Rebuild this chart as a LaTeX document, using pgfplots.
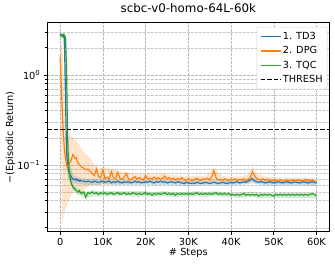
\documentclass[border=0pt]{standalone}
\usepackage{fontspec}
\setmainfont{DejaVu Sans}
\usepackage{pgfplots}
\usepackage{pgfplotstable}
\pgfplotsset{compat=1.18}
\usepgfplotslibrary{fillbetween}
\definecolor{C0}{HTML}{1F77B4}
\definecolor{C1}{HTML}{FF7F0E}
\definecolor{C2}{HTML}{2CA02C}

\pgfplotstableread{
x t d q
0 2.80 1.60 2.85
250 2.75 0.80 2.70
500 2.70 0.40 2.80
750 2.78 0.22 2.65
1000 2.60 0.15 2.75
1250 0.60 0.12 2.60
1500 0.14 0.10 1.20
1750 0.10 0.095 0.20
2000 0.085 0.10 0.10
2250 0.078 0.105 0.075
2500 0.075 0.11 0.065
2750 0.072 0.12 0.060
3000 0.070 0.13 0.057
3250 0.069 0.125 0.055
3500 0.068 0.118 0.054
3750 0.070 0.12 0.052
4000 0.067 0.11 0.051
4250 0.068 0.105 0.050
4500 0.066 0.10 0.052
4750 0.067 0.098 0.049
5000 0.066 0.095 0.048
5500 0.066 0.092 0.050
6000 0.065 0.088 0.044
6500 0.066 0.090 0.049
7000 0.065 0.085 0.048
7500 0.064 0.080 0.050
8000 0.066 0.076 0.048
8500 0.065 0.090 0.049
9000 0.064 0.074 0.047
9500 0.065 0.072 0.049
10000 0.066 0.088 0.048
10500 0.064 0.071 0.049
11000 0.065 0.073 0.047
11500 0.066 0.070 0.048
12000 0.063 0.084 0.049
12500 0.065 0.072 0.047
13000 0.064 0.070 0.048
13500 0.066 0.082 0.049
14000 0.064 0.071 0.047
14500 0.063 0.069 0.048
15000 0.065 0.073 0.049
15500 0.064 0.080 0.047
16000 0.065 0.070 0.048
16500 0.063 0.068 0.047
17000 0.064 0.071 0.049
17500 0.066 0.074 0.048
18000 0.064 0.069 0.047
18500 0.065 0.072 0.048
19000 0.063 0.070 0.047
19500 0.064 0.068 0.048
20000 0.065 0.076 0.049
20500 0.064 0.070 0.047
21000 0.066 0.071 0.048
21500 0.064 0.069 0.046
22000 0.063 0.073 0.048
22500 0.065 0.070 0.047
23000 0.064 0.072 0.048
23500 0.066 0.069 0.047
24000 0.064 0.071 0.048
24500 0.065 0.075 0.049
25000 0.063 0.070 0.047
25500 0.064 0.072 0.048
26000 0.065 0.069 0.047
26500 0.064 0.071 0.048
27000 0.063 0.068 0.046
27500 0.065 0.070 0.048
28000 0.064 0.069 0.047
28500 0.063 0.072 0.048
29000 0.062 0.068 0.047
29500 0.064 0.067 0.048
30000 0.063 0.070 0.047
30500 0.062 0.068 0.048
31000 0.063 0.067 0.047
31500 0.062 0.069 0.048
32000 0.064 0.071 0.049
32500 0.063 0.068 0.047
33000 0.062 0.067 0.048
33500 0.063 0.070 0.047
34000 0.064 0.069 0.048
34500 0.063 0.071 0.047
35000 0.062 0.068 0.048
35500 0.063 0.074 0.047
36000 0.064 0.086 0.048
36500 0.063 0.072 0.049
37000 0.062 0.068 0.047
37500 0.063 0.069 0.048
38000 0.064 0.067 0.047
38500 0.063 0.070 0.048
39000 0.062 0.068 0.047
39500 0.063 0.067 0.048
40000 0.064 0.069 0.046
40500 0.063 0.068 0.047
41000 0.064 0.070 0.046
41500 0.065 0.067 0.047
42000 0.063 0.069 0.046
42500 0.064 0.068 0.047
43000 0.065 0.070 0.048
43500 0.064 0.067 0.046
44000 0.066 0.069 0.047
44500 0.068 0.072 0.046
45000 0.070 0.084 0.047
45500 0.066 0.076 0.046
46000 0.065 0.071 0.047
46500 0.064 0.069 0.045
47000 0.065 0.068 0.047
47500 0.064 0.070 0.046
48000 0.063 0.067 0.047
48500 0.064 0.069 0.046
49000 0.065 0.068 0.047
49500 0.064 0.066 0.046
50000 0.063 0.068 0.045
50500 0.064 0.067 0.047
51000 0.065 0.066 0.046
51500 0.064 0.068 0.047
52000 0.063 0.067 0.046
52500 0.064 0.065 0.047
53000 0.065 0.068 0.046
53500 0.064 0.066 0.047
54000 0.063 0.067 0.046
54500 0.064 0.068 0.047
55000 0.065 0.066 0.046
55500 0.064 0.067 0.047
56000 0.063 0.068 0.046
56500 0.064 0.066 0.047
57000 0.065 0.067 0.046
57500 0.064 0.069 0.047
58000 0.063 0.066 0.046
58500 0.064 0.067 0.047
59000 0.065 0.068 0.048
59500 0.064 0.066 0.047
60000 0.063 0.064 0.045
}\main

\pgfplotstableread{
x tl th dl dh ql qh
0 2.70 2.90 1.20 1.70 2.70 2.95
500 2.60 2.85 0.022 2.50 2.60 2.90
1000 2.00 2.90 0.030 0.50 2.50 2.90
1500 0.090 0.25 0.035 0.20 0.40 2.50
2000 0.070 0.10 0.040 0.22 0.070 0.15
3000 0.063 0.078 0.050 0.20 0.052 0.062
4000 0.061 0.073 0.055 0.18 0.047 0.055
5000 0.061 0.071 0.050 0.15 0.045 0.052
6000 0.060 0.070 0.055 0.13 0.041 0.050
7000 0.060 0.070 0.060 0.12 0.044 0.052
8000 0.060 0.070 0.060 0.10 0.045 0.052
9000 0.060 0.069 0.060 0.090 0.044 0.051
10000 0.061 0.070 0.060 0.095 0.045 0.051
12000 0.060 0.069 0.061 0.090 0.045 0.051
14000 0.060 0.069 0.061 0.085 0.045 0.051
16000 0.060 0.068 0.062 0.082 0.045 0.051
18000 0.060 0.068 0.062 0.078 0.044 0.051
20000 0.060 0.069 0.063 0.080 0.045 0.051
22000 0.059 0.068 0.063 0.078 0.044 0.050
24000 0.060 0.069 0.064 0.080 0.045 0.051
26000 0.060 0.068 0.063 0.077 0.044 0.050
28000 0.059 0.068 0.062 0.076 0.044 0.050
30000 0.058 0.067 0.062 0.075 0.044 0.050
32000 0.059 0.068 0.062 0.076 0.045 0.051
34000 0.059 0.067 0.062 0.075 0.044 0.050
36000 0.059 0.068 0.064 0.092 0.045 0.051
38000 0.059 0.068 0.062 0.075 0.044 0.050
40000 0.059 0.068 0.062 0.074 0.044 0.049
42000 0.060 0.068 0.062 0.074 0.043 0.049
44000 0.061 0.071 0.063 0.078 0.044 0.050
45000 0.063 0.074 0.066 0.095 0.044 0.050
46000 0.061 0.069 0.063 0.080 0.043 0.049
48000 0.059 0.068 0.062 0.074 0.043 0.049
50000 0.059 0.068 0.061 0.073 0.043 0.048
52000 0.059 0.068 0.061 0.072 0.043 0.049
54000 0.059 0.068 0.061 0.072 0.043 0.049
56000 0.059 0.068 0.061 0.072 0.043 0.049
58000 0.059 0.068 0.061 0.072 0.043 0.049
60000 0.058 0.067 0.060 0.070 0.042 0.048
}\bands

\begin{document}
\begin{tikzpicture}
\begin{axis}[
  at={(0,0)}, anchor=south west,
  scale only axis, width=282bp, height=209bp,
  ymode=log,
  xmin=-3000, xmax=63000, ymin=0.01815, ymax=3.81,
  xtick={0,10000,20000,30000,40000,50000,60000},
  xticklabels={0,10K,20K,30K,40K,50K,60K},
  scaled x ticks=false,
  ytick={0.1,1},
  yticklabels={10\textsuperscript{−1},10\textsuperscript{0}},
  minor ytick={0.02,0.03,0.04,0.05,0.06,0.07,0.08,0.09,0.2,0.3,0.4,0.5,0.6,0.7,0.8,0.9,2,3},
  tick align=outside,
  major tick length=3.5bp, minor tick length=2bp,
  tick style={black, line width=0.6bp},
  xtick pos=bottom, ytick pos=left,
  grid=both,
  major grid style={gray!55, dash pattern=on 2.5bp off 1.5bp, line width=0.5bp},
  minor grid style={gray!45, dash pattern=on 2.5bp off 1.5bp, line width=0.4bp},
  axis line style={black, line width=0.7bp},
  tick label style={font=\fontsize{9.8}{11}\selectfont},
  title={scbc-v0-homo-64L-60k},
  title style={font=\fontsize{11.9}{13}\selectfont, at={(axis description cs:0.5,1.0416)}, anchor=center},
  xlabel={\# Steps},
  ylabel={−(Episodic Return)},
  every axis x label/.style={at={(axis description cs:0.5,-0.102)}, anchor=center, font=\fontsize{9.8}{11}\selectfont},
  every axis y label/.style={at={(axis description cs:-0.1305,0.45)}, rotate=90, anchor=center, font=\fontsize{9.8}{11}\selectfont},
  legend style={at={(axis description cs:1,1)}, anchor=north east, xshift=-2bp, yshift=-4.5bp,
    draw=gray!35, rounded corners=2pt, fill=white,
    font=\fontsize{9.8}{11}\selectfont, row sep=2.6bp, inner xsep=3bp, inner ysep=3.5bp,
    nodes={inner sep=1.5bp}},
  legend cell align=left,
  legend image code/.code={\draw[line width=1.4bp] (0bp,0bp) -- (20bp,0bp);},
]
\addplot[draw=none, forget plot, name path=tl] table[x=x,y=tl]{\bands};
\addplot[draw=none, forget plot, name path=th] table[x=x,y=th]{\bands};
\addplot[fill=C0, fill opacity=0.22, draw=none, forget plot] fill between[of=tl and th];
\addplot[draw=none, forget plot, name path=dl] table[x=x,y=dl]{\bands};
\addplot[draw=none, forget plot, name path=dh] table[x=x,y=dh]{\bands};
\addplot[fill=C1, fill opacity=0.22, draw=none, forget plot] fill between[of=dl and dh];
\addplot[draw=none, forget plot, name path=ql] table[x=x,y=ql]{\bands};
\addplot[draw=none, forget plot, name path=qh] table[x=x,y=qh]{\bands};
\addplot[fill=C2, fill opacity=0.22, draw=none, forget plot] fill between[of=ql and qh];

\addplot[C0, line width=1.2bp, no marks] table[x=x,y=t]{\main};
\addlegendentry{1. TD3}
\addplot[C1, line width=1.2bp, no marks] table[x=x,y=d]{\main};
\addlegendentry{2. DPG}
\addplot[C2, line width=1.2bp, no marks] table[x=x,y=q]{\main};
\addlegendentry{3. TQC}
\addplot[black, line width=1.1bp, dash pattern=on 4.5bp off 2bp, no marks] coordinates {(-3000,0.25) (63000,0.25)};
\addlegendentry{THRESH}
\end{axis}
\path (-47.3bp,-33.3bp) rectangle (287.7bp,227.7bp);
\end{tikzpicture}
\end{document}
